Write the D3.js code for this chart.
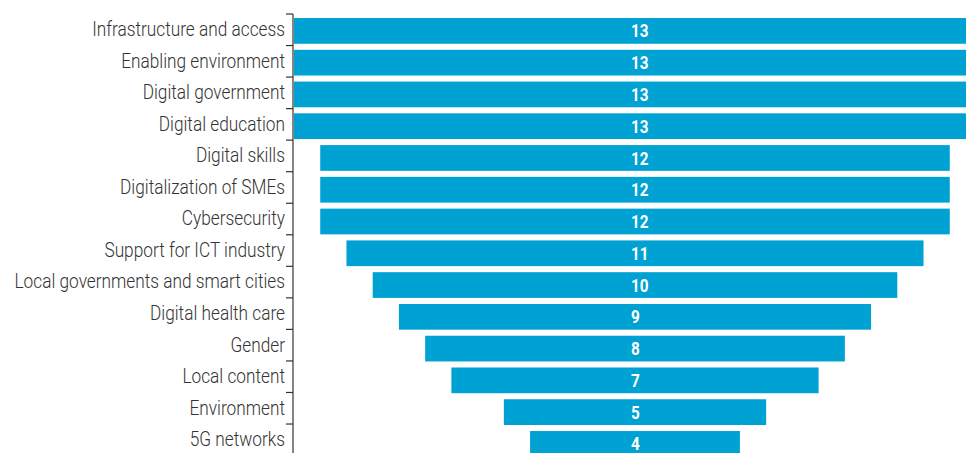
<!DOCTYPE html>
<html>
<head>
<meta charset="utf-8">
<script src="https://cdn.jsdelivr.net/npm/d3@7"></script>
<style>
  html, body { margin: 0; padding: 0; background: #fff; overflow: hidden; }
  svg { display: block; }
</style>
</head>
<body>
<svg id="chart" width="966" height="453"></svg>
<script>
const categories = [
  "Infrastructure and access",
  "Enabling environment",
  "Digital government",
  "Digital education",
  "Digital skills",
  "Digitalization of SMEs",
  "Cybersecurity",
  "Support for ICT industry",
  "Local governments and smart cities",
  "Digital health care",
  "Gender",
  "Local content",
  "Environment",
  "5G networks"
];
const values = [13, 13, 13, 13, 12, 12, 12, 11, 10, 9, 8, 7, 5, 4];
const maxValue = 13;

const svg = d3.select("#chart");
const font = "Roboto, 'Liberation Sans', sans-serif";

const axisX = 293;
// category axis (labels + ticks)
const yAxis = d3.scaleBand()
  .domain(categories)
  .range([14, 14 + 31.54 * categories.length])
  .padding(0);
// bars
const yBar = d3.scaleBand()
  .domain(categories)
  .range([15, 15 + 31.77 * categories.length])
  .paddingInner(0.19)
  .paddingOuter(0.095);

const x = d3.scaleLinear()
  .domain([-maxValue, maxValue])
  .range([294, 976]);

const data = categories.map((c, i) => ({ cat: c, v: values[i] }));
const barMid = d => yBar(d.cat) + yBar.bandwidth() / 2;

svg.selectAll("rect.bar")
  .data(data)
  .join("rect")
  .attr("class", "bar")
  .attr("x", d => x(-d.v))
  .attr("y", d => yBar(d.cat))
  .attr("width", d => x(d.v) - x(-d.v))
  .attr("height", yBar.bandwidth())
  .attr("fill", "#00a2d3");

function measure(str, size, weight) {
  const t = svg.append("text").attr("font-family", font).attr("font-size", size)
    .attr("font-weight", weight).text(str);
  const w = t.node().getComputedTextLength();
  t.remove();
  return w;
}
const labScale = 193 / measure("Infrastructure and access", 20, 300);
const valScale = 17.6 / measure("13", 18, "bold");

svg.selectAll("text.val")
  .data(data)
  .join("text")
  .attr("class", "val")
  .attr("transform", d => `translate(${x(0) - 4},${barMid(d) + 6.6}) scale(${valScale},1)`)
  .attr("text-anchor", "start")
  .attr("fill", "#fff")
  .attr("font-family", font)
  .attr("font-weight", "bold")
  .attr("font-size", 18)
  .text(d => d.v);

// Axis
const g = svg.append("g");
g.append("line")
  .attr("x1", axisX).attr("x2", axisX)
  .attr("y1", yAxis.range()[0]).attr("y2", 460)
  .attr("stroke", "#333").attr("stroke-width", 1.2);

const tickYs = categories.map(c => yAxis(c));
g.selectAll("line.tick")
  .data(tickYs)
  .join("line")
  .attr("class", "tick")
  .attr("x1", axisX - 7).attr("x2", axisX)
  .attr("y1", d => d).attr("y2", d => d)
  .attr("stroke", "#333").attr("stroke-width", 1.2);

g.selectAll("text.lab")
  .data(data)
  .join("text")
  .attr("class", "lab")
  .attr("transform", d => `translate(285,${yAxis(d.cat) + yAxis.bandwidth() / 2 + 6.4}) scale(${labScale},1)`)
  .attr("text-anchor", "end")
  .attr("fill", "#333")
  .attr("font-family", font)
  .attr("font-weight", 300)
  .attr("font-size", 20)
  .text(d => d.cat);
</script>
</body>
</html>
